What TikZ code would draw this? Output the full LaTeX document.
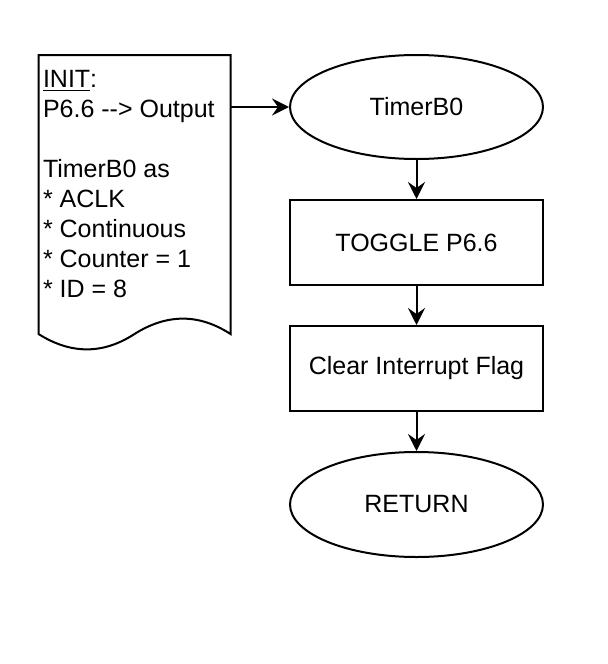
\documentclass[tikz,border=0pt]{standalone}
\usepackage{fontspec}
\setmainfont{Liberation Sans}
\usetikzlibrary{arrows.meta, positioning, shapes.geometric}

\begin{document}
\begin{tikzpicture}[x=0.5pt, y=-0.5pt, >={Stealth[length=8.5pt, width=8.5pt, inset=3pt]}, line width=1pt,
  every node/.style={font=\fontsize{12.5pt}{15pt}\selectfont},
  terminal/.style={draw, ellipse, minimum width=126.5pt, minimum height=52pt, inner sep=0pt},
  process/.style={draw, rectangle, minimum width=126.5pt, minimum height=42.5pt, inner sep=0pt},
  node distance=19.5pt]

  \useasboundingbox (0,0) rectangle (607,664);

  % Nodes
  \node (init) [minimum width=95pt, minimum height=138.5pt, inner sep=0pt, anchor=north west] at (38.5,55) {};
  \node (initText) [anchor=north west, align=left, inner sep=0pt] at (42,69.5)
    {\underline{INIT}:\\ P6.6 -{}-> Output\\[15pt] TimerB0 as\\ * ACLK\\ * Continuous\\ * Counter = 1\\ * ID = 8};
  \node (timer) [terminal] at (416.5,107) {TimerB0};
  \node (toggle) [process, below=of timer] {TOGGLE P6.6};
  \node (clear) [process, below=of toggle] {Clear Interrupt Flag};
  \node (return) [terminal, below=of clear, minimum height=52.5pt] {RETURN};

  % Document outline
  \draw (init.south west) -- (init.north west) -- (init.north east) -- (init.south east)
    .. controls ([shift={(-31.5,-20.5)}]init.south east) and ([shift={(-63.5,-20.5)}]init.south east) .. (init.south)
    .. controls ([shift={(-31.5,20.5)}]init.south) and ([shift={(-63.5,20.5)}]init.south) .. cycle;

  % Edges
  \draw[->] (init.east |- timer) -- (timer);
  \draw[->] (timer) -- (toggle);
  \draw[->] (toggle) -- (clear);
  \draw[->] (clear) -- (return);

\end{tikzpicture}
\end{document}
